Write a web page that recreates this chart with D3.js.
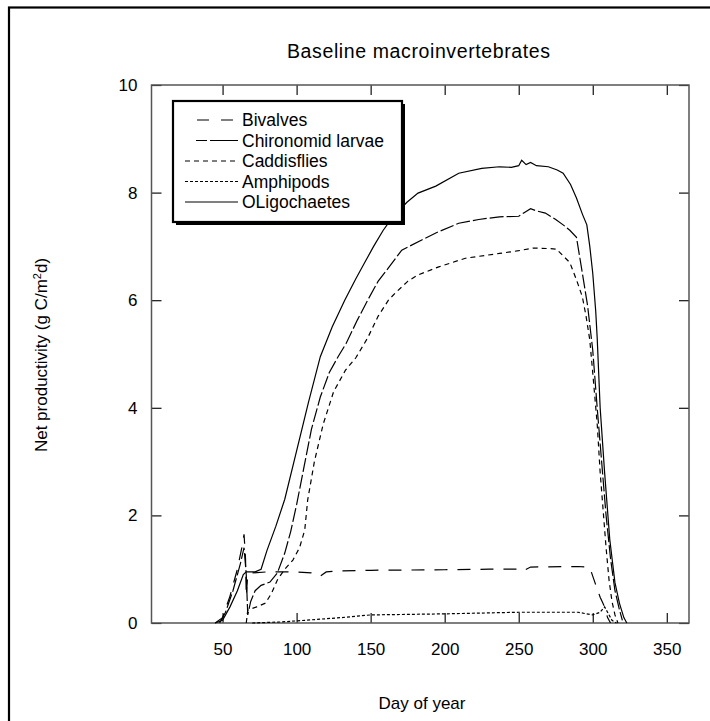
<!DOCTYPE html>
<html>
<head>
<meta charset="utf-8">
<script src="https://cdn.jsdelivr.net/npm/d3@7"></script>
<style>
  body { margin: 0; background: #fff; }
  svg { font-family: "Liberation Sans", Arial, sans-serif; }
  .tick text { font-size: 17px; fill: #000; }
</style>
</head>
<body>
<svg id="chart" width="710" height="721"></svg>
<script>
// series: [day, net productivity]
let bivalves = [[45,0],[50,0.1],[55,0.5],[60,1.0],[63,1.4],[64.5,1.65],[65.5,1.2],[66,0.5],[67,0.9],[70,0.93],[80,0.95],[100,0.95],
  [110,0.93],[116,0.87],[120,0.95],[130,0.97],[150,0.98],[200,0.99],[230,1.0],[250,1.0],[253,0.97],[258,1.04],[290,1.05],
  [297,1.04],[299,0.95],[301.5,0.75],[305,0.48],[308,0.3],[310,0.1],[312,0]];
let chironomid = [[48,0],[52,0.2],[57,0.6],[62,1.1],[64.5,1.4],[66,0.9],[67,0.15],[69,0.4],[72,0.6],[76,0.7],[82,0.76],
  [87,0.93],[92,1.3],[96,1.7],[100,2.2],[105,2.9],[110,3.6],[116,4.2],[122,4.65],[128,4.95],[133.5,5.2],[141,5.63],
  [148,6.0],[155,6.35],[162,6.6],[171,6.93],[184.5,7.12],[194,7.25],[209.5,7.43],[223,7.5],[237,7.55],[250,7.56],[255,7.65],
  [258,7.7],[262,7.66],[268,7.62],[275,7.5],[280,7.4],[284.5,7.3],[289,7.17],[293,6.5],[296.5,5.9],[300,5.07],[303,4.0],
  [306,3.0],[309,2.0],[312,1.2],[315,0.6],[318,0.25],[320,0.05]];
let caddisflies = [[66,0],[67,0.24],[73,0.3],[79,0.37],[83,0.55],[87,0.8],[92,1.0],[97.5,1.17],[102,1.4],[105.5,1.73],
  [107.5,2.29],[112,3.0],[118,3.7],[125,4.3],[133,4.7],[140,4.93],[148,5.3],[155,5.7],[162,6.0],[166.5,6.13],[175,6.35],
  [182,6.47],[196,6.62],[214,6.78],[237,6.87],[250,6.92],[260,6.97],[270,6.96],[275.5,6.95],[284.5,6.7],[289,6.38],
  [293,6.06],[295.5,5.7],[298,5.26],[300,4.65],[303,3.7],[305,2.8],[307,2.1],[309,1.4],[311,0.8],[313,0.4],[315,0.15],[317,0]];
let amphipods = [[70,0],[90,0.02],[105.5,0.05],[130,0.1],[150,0.15],[200,0.17],[250,0.2],[290,0.2],[300,0.15],[305,0.2],
  [308,0.3],[310,0.2],[313,0.05],[316,0]];
let oligochaetes = [[45,0],[50,0.05],[55,0.3],[60,0.6],[64,0.9],[66,0.95],[72,0.95],[76,1.0],[80,1.35],[86,1.8],[92,2.3],
  [100,3.2],[108,4.1],[116,4.95],[124,5.5],[132.5,6.0],[140,6.4],[146,6.7],[152,7.0],[158.5,7.3],[165,7.55],[174.5,7.82],
  [182,7.99],[194,8.12],[209.5,8.36],[225,8.45],[237,8.48],[245,8.47],[250,8.5],[252,8.6],[255,8.52],[258,8.56],[262,8.5],
  [270,8.48],[276,8.42],[280,8.36],[285,8.15],[289,7.9],[293,7.6],[296,7.4],[298,7.0],[300,6.5],[302,5.8],[303,5.3],
  [305,4.0],[308,2.8],[311.5,1.55],[315,0.75],[318,0.37],[321,0.1],[323,0]];

let seriesNames = ["Bivalves", "Chironomid larvae", "Caddisflies", "Amphipods", "OLigochaetes"];
let seriesData = [bivalves, chironomid, caddisflies, amphipods, oligochaetes];
let dashes = ["13,10", "14,3", "5,4", "3,2", null];
let xTicks = [50, 100, 150, 200, 250, 300, 350];
let yTicks = [0, 2, 4, 6, 8, 10];

let svg = d3.select("#chart");

// outer frame, runs off right and bottom
svg.append("rect").attr("x", 9).attr("y", 7.5).attr("width", 760).attr("height", 760)
    .attr("fill", "none").attr("stroke", "#000").attr("stroke-width", 2.2);

let plot = { left: 151.5, right: 689, top: 85, bottom: 623 };

let xScale = d3.scaleLinear().domain([2, 365]).range([plot.left, plot.right]);
let yScale = d3.scaleLinear().domain([0, 10]).range([plot.bottom, plot.top]);

let styleAxis = function (g) {
    g.select(".domain").remove();
    g.selectAll(".tick line").attr("stroke", "#111").attr("stroke-width", 1.2);
};

svg.append("g").attr("transform", `translate(0,${plot.bottom})`)
    .call(d3.axisBottom(xScale).tickValues(xTicks).tickSizeInner(-10).tickSizeOuter(0).tickPadding(20))
    .call(styleAxis);
svg.append("g").attr("transform", `translate(0,${plot.top})`)
    .call(d3.axisTop(xScale).tickValues(xTicks).tickSizeInner(-10).tickSizeOuter(0).tickFormat(""))
    .call(styleAxis);
svg.append("g").attr("transform", `translate(${plot.left},0)`)
    .call(d3.axisLeft(yScale).tickValues(yTicks).tickSizeInner(-10).tickSizeOuter(0).tickPadding(14))
    .call(styleAxis);
svg.append("g").attr("transform", `translate(${plot.right},0)`)
    .call(d3.axisRight(yScale).tickValues(yTicks).tickSizeInner(-10).tickSizeOuter(0).tickFormat(""))
    .call(styleAxis);

// plot frame
svg.append("rect").attr("x", plot.left).attr("y", plot.top)
    .attr("width", plot.right - plot.left).attr("height", plot.bottom - plot.top)
    .attr("fill", "none").attr("stroke", "#555").attr("stroke-width", 1.5);

let lineGenerator = d3.line()
    .x(d => xScale(d[0]))
    .y(d => yScale(d[1]));

svg.append("g").selectAll("path").data(seriesData).join("path")
    .attr("d", lineGenerator)
    .attr("fill", "none")
    .attr("stroke", "#000")
    .attr("stroke-width", 1.2)
    .attr("stroke-dasharray", (d, i) => dashes[i]);

// legend
let lg = { x: 173, y: 101, w: 229, h: 121 };
svg.append("rect").attr("x", lg.x + 3).attr("y", lg.y + 3).attr("width", lg.w).attr("height", lg.h).attr("fill", "#000");
svg.append("rect").attr("x", lg.x).attr("y", lg.y).attr("width", lg.w).attr("height", lg.h)
    .attr("fill", "#fff").attr("stroke", "#000").attr("stroke-width", 2.2);

let rows = svg.append("g").selectAll("g").data(seriesNames).join("g")
    .attr("transform", (d, i) => `translate(0,${120 + i * 20.5})`);
rows.append("line")
    .attr("x1", 185).attr("x2", 238).attr("y1", 0).attr("y2", 0)
    .attr("stroke", "#000").attr("stroke-width", 1.2)
    .attr("stroke-dasharray", (d, i) => i == 0 ? "12,12" : i == 1 ? "0,11,11,3,20" : dashes[i])
    .attr("stroke-dashoffset", (d, i) => i == 0 ? 12 : 0);
rows.append("text")
    .attr("x", 242).attr("y", 6.3)
    .attr("font-size", 17.5)
    .text(d => d);

// titles
svg.append("text").attr("x", 418.5).attr("y", 58).attr("text-anchor", "middle")
    .attr("font-size", 19.5).attr("textLength", 263).attr("lengthAdjust", "spacing")
    .text("Baseline macroinvertebrates");

svg.append("text").attr("x", 422).attr("y", 709).attr("text-anchor", "middle")
    .attr("font-size", 17).text("Day of year");

let yTitle = svg.append("text")
    .attr("transform", "translate(47,355) rotate(-90)")
    .attr("text-anchor", "middle").attr("font-size", 17);
yTitle.append("tspan").text("Net productivity (g C/m");
yTitle.append("tspan").attr("font-size", 11).attr("baseline-shift", "super").text("2");
yTitle.append("tspan").text("d)");
</script>
</body>
</html>
